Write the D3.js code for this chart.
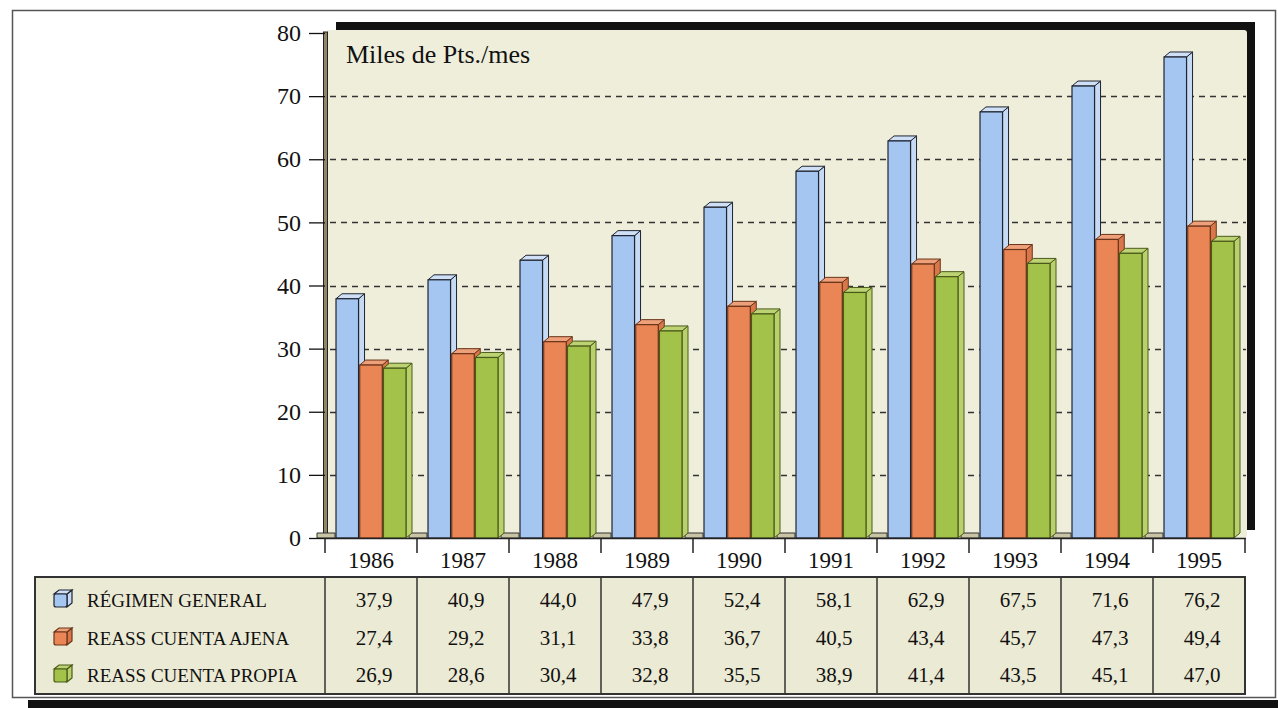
<!DOCTYPE html>
<html>
<head>
<meta charset="utf-8">
<script src="https://cdn.jsdelivr.net/npm/d3@7/dist/d3.min.js"></script>
<style>
  html, body { margin: 0; padding: 0; background: #fff; }
  svg { display: block; font-family: "Liberation Serif", "Times New Roman", serif; }
</style>
</head>
<body>
<svg id="chart" width="1278" height="708"></svg>
<script>
// data
var years = ['1986', '1987', '1988', '1989', '1990', '1991', '1992', '1993', '1994', '1995'];
var seriesNames = ['RÉGIMEN GENERAL', 'REASS CUENTA AJENA', 'REASS CUENTA PROPIA'];
var regimenGeneral = [37.9, 40.9, 44.0, 47.9, 52.4, 58.1, 62.9, 67.5, 71.6, 76.2];
var cuentaAjena = [27.4, 29.2, 31.1, 33.8, 36.7, 40.5, 43.4, 45.7, 47.3, 49.4];
var cuentaPropia = [26.9, 28.6, 30.4, 32.8, 35.5, 38.9, 41.4, 43.5, 45.1, 47.0];
var yTicks = [0, 10, 20, 30, 40, 50, 60, 70, 80];
var unitLabel = 'Miles de Pts./mes';

var seriesValues = [regimenGeneral, cuentaAjena, cuentaPropia];

// colours: front, side, top, edge
var palette = [
    { front: '#a6c6f2', side: '#c6daf5', top: '#cfe0f6', edge: '#1f2430' },
    { front: '#ea8656', side: '#d9764a', top: '#eea07a', edge: '#6a3419' },
    { front: '#a2c24a', side: '#b9d16c', top: '#bcd273', edge: '#4a5a1a' }
];

var svg = d3.select('#chart');

var x = d3.scaleBand().domain(years).range([325, 1245]);
var x1 = d3.scaleBand().domain(d3.range(3)).range([11, 81]).paddingInner(0.05);
var y = d3.scaleLinear().domain([0, 80]).range([538, 33]);

var dx = 6, dy = 5;

function fmt(v) { return d3.format('.1f')(v).replace('.', ','); }

// outer frame + shadow
svg.append('rect')
    .attr('x', 28).attr('y', 700).attr('width', 1250).attr('height', 8)
    .attr('fill', '#111');
svg.append('rect')
    .attr('x', 12.5).attr('y', 10.5).attr('width', 1263).attr('height', 687)
    .attr('fill', '#fff').attr('stroke', '#555').attr('stroke-width', 1.5);

// plot back wall with black drop shadow
svg.append('rect')
    .attr('x', 336).attr('y', 22).attr('width', 919).attr('height', 508)
    .attr('fill', '#111');
svg.append('rect')
    .attr('x', 326).attr('y', 30).attr('width', 921).attr('height', 508)
    .attr('rx', 3)
    .attr('fill', '#efeedb');

// left wall strip
svg.append('rect')
    .attr('x', 323.5).attr('y', 32).attr('width', 4).attr('height', 506)
    .attr('fill', '#8f8766').attr('stroke', '#222').attr('stroke-width', 1);

// unit label
svg.append('text')
    .attr('x', 346).attr('y', 63)
    .attr('font-size', 26)
    .attr('fill', '#111')
    .text(unitLabel);

// grid
svg.append('g').selectAll('line')
    .data(yTicks.filter(function(d) { return d > 0 && d < 80; }))
    .enter().append('line')
        .attr('x1', 330).attr('x2', 1246)
        .attr('y1', function(d) { return Math.round(y(d)) + 0.5; })
        .attr('y2', function(d) { return Math.round(y(d)) + 0.5; })
        .attr('stroke', '#333')
        .attr('stroke-width', 1.3)
        .attr('stroke-dasharray', '6,5');

// floor slabs in gaps between groups
svg.append('g').selectAll('path')
    .data(years)
    .enter().append('path')
        .attr('d', function(d) {
            var x0 = x(d) - 8, x2 = x(d) + 10, b = y(0), h = 5;
            return 'M' + x0 + ',' + b + 'L' + x0 + ',' + (b - h) + 'L' + x2 + ',' + (b - h) +
                'L' + x2 + ',' + b + 'Z';
        })
        .attr('fill', '#c9c5a4')
        .attr('stroke', '#333')
        .attr('stroke-width', 1);

// bars
var bars = svg.append('g');
years.forEach(function(yr, i) {
    seriesValues.forEach(function(vals, s) {
        var v = vals[i];
        var bx = x(yr) + x1(s), w = x1.bandwidth();
        var top = y(v), base = y(0);
        var c = palette[s];
        var g = bars.append('g');
        g.append('path')
            .attr('d', 'M' + (bx + w) + ',' + top + 'L' + (bx + w + dx) + ',' + (top - dy) +
                'L' + (bx + w + dx) + ',' + (base - dy) + 'L' + (bx + w) + ',' + base + 'Z')
            .attr('fill', c.side).attr('stroke', c.edge).attr('stroke-width', 1);
        g.append('path')
            .attr('d', 'M' + bx + ',' + top + 'L' + (bx + dx) + ',' + (top - dy) +
                'L' + (bx + w + dx) + ',' + (top - dy) + 'L' + (bx + w) + ',' + top + 'Z')
            .attr('fill', c.top).attr('stroke', c.edge).attr('stroke-width', 1);
        g.append('rect')
            .attr('x', bx).attr('y', top)
            .attr('width', w).attr('height', base - top)
            .attr('fill', c.front).attr('stroke', c.edge).attr('stroke-width', 1.2);
    });
});

// y axis
var yAxis = svg.append('g')
    .attr('transform', 'translate(325,0)')
    .call(d3.axisLeft(y).tickValues(yTicks).tickSize(16).tickPadding(8));
yAxis.select('.domain').remove();
yAxis.selectAll('.tick line').attr('stroke', '#111').attr('stroke-width', 1.3);
yAxis.selectAll('.tick text')
    .attr('font-family', '"Liberation Serif", serif')
    .attr('font-size', 24)
    .attr('fill', '#111');

// x axis
svg.append('line')
    .attr('x1', 325).attr('x2', 1246)
    .attr('y1', 538.5).attr('y2', 538.5)
    .attr('stroke', '#222').attr('stroke-width', 1.5);
svg.append('g').selectAll('line')
    .data(years.concat(['end']))
    .enter().append('line')
        .attr('x1', function(d) { return d === 'end' ? 1245 : x(d); })
        .attr('x2', function(d) { return d === 'end' ? 1245 : x(d); })
        .attr('y1', 538).attr('y2', 553)
        .attr('stroke', '#222').attr('stroke-width', 1.5);
svg.append('g').selectAll('text')
    .data(years)
    .enter().append('text')
        .attr('x', function(d) { return x(d) + x.bandwidth() / 2; })
        .attr('y', 568)
        .attr('text-anchor', 'middle')
        .attr('font-size', 23)
        .attr('fill', '#111')
        .text(function(d) { return d; });

// data table
var table = svg.append('g');
table.append('rect')
    .attr('x', 35).attr('y', 577).attr('width', 1210).attr('height', 117)
    .attr('fill', '#ebead4').attr('stroke', '#333').attr('stroke-width', 2);
table.selectAll('line.col')
    .data(years)
    .enter().append('line')
        .attr('class', 'col')
        .attr('x1', function(d) { return x(d); })
        .attr('x2', function(d) { return x(d); })
        .attr('y1', 577).attr('y2', 694)
        .attr('stroke', '#333').attr('stroke-width', 1.5);

var rowY = [607, 645, 682];

seriesNames.forEach(function(name, s) {
    var c = palette[s];
    var cx = 54, cy = rowY[s] - 13, sz = 13;
    var row = table.append('g');
    row.append('path')
        .attr('d', 'M' + (cx + sz) + ',' + cy + 'L' + (cx + sz + 5) + ',' + (cy - 4) +
            'L' + (cx + sz + 5) + ',' + (cy + sz - 4) + 'L' + (cx + sz) + ',' + (cy + sz) + 'Z')
        .attr('fill', c.side).attr('stroke', c.edge).attr('stroke-width', 1.2);
    row.append('path')
        .attr('d', 'M' + cx + ',' + cy + 'L' + (cx + 5) + ',' + (cy - 4) +
            'L' + (cx + sz + 5) + ',' + (cy - 4) + 'L' + (cx + sz) + ',' + cy + 'Z')
        .attr('fill', c.top).attr('stroke', c.edge).attr('stroke-width', 1.2);
    row.append('rect')
        .attr('x', cx).attr('y', cy).attr('width', sz).attr('height', sz)
        .attr('rx', 2)
        .attr('fill', c.front).attr('stroke', c.edge).attr('stroke-width', 1.2);
    row.append('text')
        .attr('x', 87).attr('y', rowY[s])
        .attr('font-size', 19)
        .attr('fill', '#111')
        .text(name);
    row.selectAll('text.val')
        .data(seriesValues[s])
        .enter().append('text')
            .attr('class', 'val')
            .attr('x', function(d, i) { return x(years[i]) + x.bandwidth() / 2 + 3; })
            .attr('y', rowY[s])
            .attr('text-anchor', 'middle')
            .attr('font-size', 21)
            .attr('fill', '#111')
            .text(fmt);
});
</script>
</body>
</html>
